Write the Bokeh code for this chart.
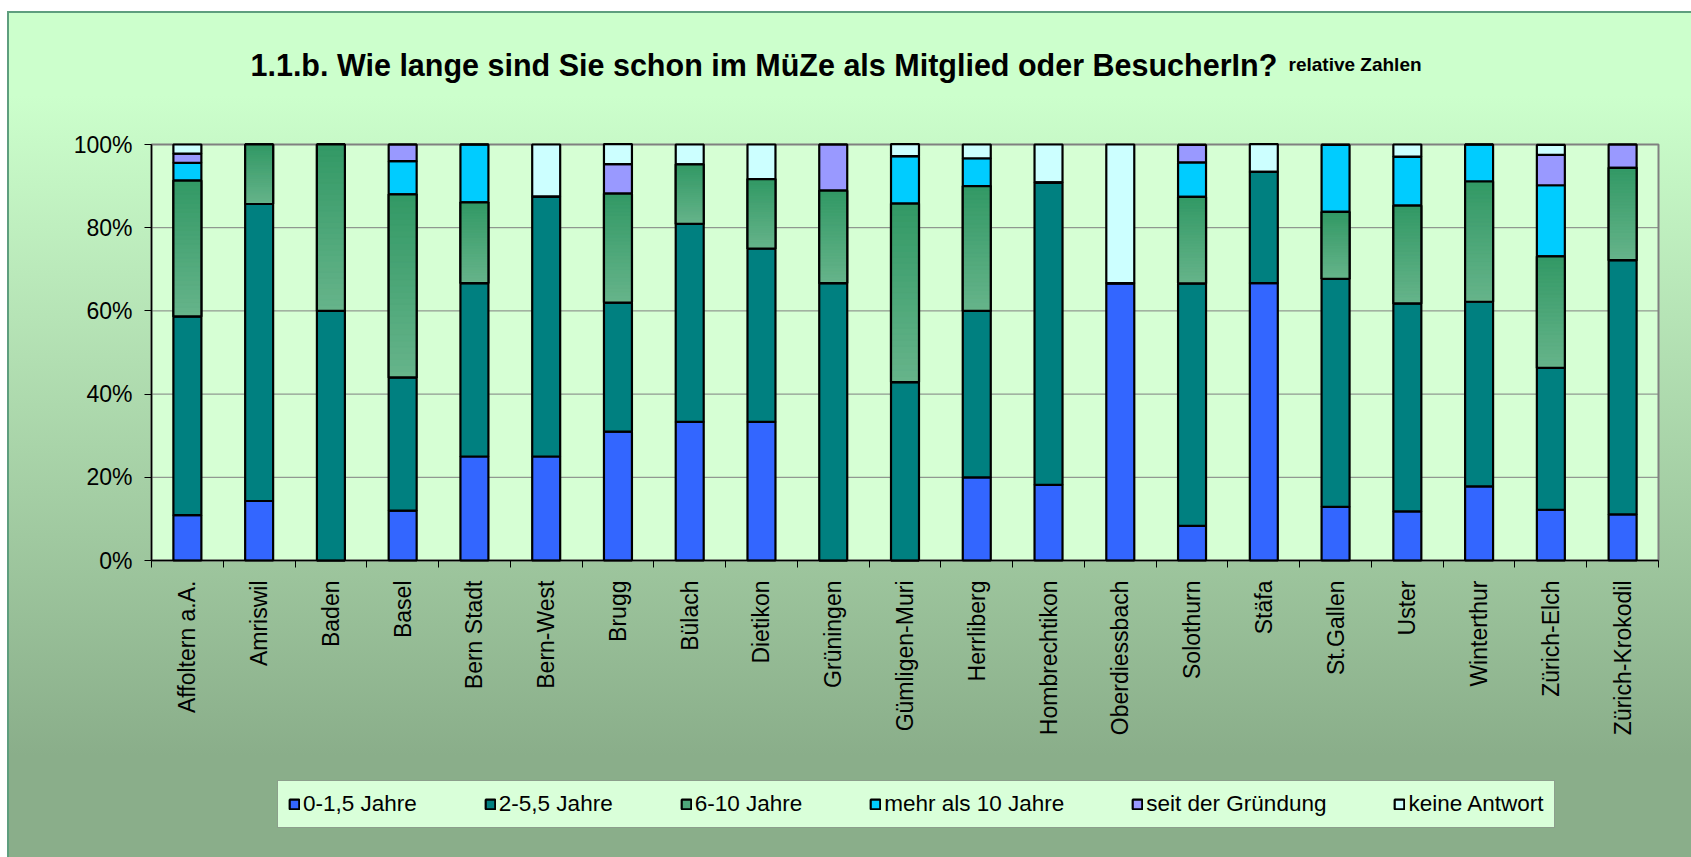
import math
from bokeh.plotting import figure
from bokeh.models import (ColumnDataSource, FixedTicker, Legend, LegendItem, Label,
                          LinearAxis, PrintfTickFormatter, Range1d)
from bokeh.embed import file_html
from bokeh.resources import INLINE

# ---------------- data (percent of respondents) ----------------
categories = ["Affoltern a.A.", "Amriswil", "Baden", "Basel", "Bern Stadt", "Bern-West",
              "Brugg", "Bülach", "Dietikon", "Grüningen", "Gümligen-Muri", "Herrliberg",
              "Hombrechtikon", "Oberdiessbach", "Solothurn", "Stäfa", "St.Gallen", "Uster",
              "Winterthur", "Zürich-Elch", "Zürich-Krokodil"]
series_names = ["0-1,5 Jahre", "2-5,5 Jahre", "6-10 Jahre", "mehr als 10 Jahre",
                "seit der Gründung", "keine Antwort"]
v_0_1_5 = [10.9, 14.3, 0, 12.0, 25.0, 25.0, 31.0, 33.3, 33.3, 0, 0, 20.0, 18.2, 66.7, 8.3,
           66.7, 12.9, 11.8, 17.8, 12.2, 11.1]
v_2_5_5 = [47.8, 71.4, 60.0, 32.0, 41.7, 62.5, 31.0, 47.6, 41.7, 66.7, 42.9, 40.0, 72.7, 0,
           58.3, 26.7, 54.8, 50.0, 44.4, 34.1, 61.1]
v_6_10 = [32.6, 14.3, 40.0, 44.0, 19.4, 0, 26.2, 14.3, 16.7, 22.2, 42.9, 30.0, 0, 0, 20.8,
          0, 16.1, 23.5, 28.9, 26.8, 22.2]
v_mehr10 = [4.3, 0, 0, 8.0, 13.9, 0, 0, 0, 0, 0, 11.4, 6.7, 0, 0, 8.3, 0, 16.1, 11.8, 8.9,
            17.1, 0]
v_seit = [2.2, 0, 0, 4.0, 0, 0, 7.1, 0, 0, 11.1, 0, 0, 0, 0, 4.2, 0, 0, 0, 0, 7.3, 5.6]
v_keine = [2.2, 0, 0, 0, 0, 12.5, 4.8, 4.8, 8.3, 0, 2.9, 3.3, 9.1, 33.3, 0, 6.7, 0, 2.9, 0,
           2.4, 0]
y_ticks = [0, 20, 40, 60, 80, 100]

colors = ["#3366FF", "#008080", "#4EA77A", "#00CCFF", "#9999FF", "#CCFFFF"]
FONT = "Liberation Sans"
BAR_W = 0.39

# ---------------- layout (pixels) ----------------
W, H = 1691, 857
PX_L, PX_R, PX_T, PX_B = 151, 1658, 144, 560   # plot area edges

n = len(categories)
xs = [i + 0.5 for i in range(n)]
sx = (PX_R - PX_L) / n
sy = (PX_B - PX_T) / 100.0
x_range = Range1d(-PX_L / sx, n + (W - PX_R) / sx)
y_range = Range1d(-(H - PX_B) / sy, 100 + PX_T / sy)

keys = ["s0", "s1", "s2", "s3", "s4", "s5"]
src = ColumnDataSource(dict(x=xs, s0=v_0_1_5, s1=v_2_5_5, s2=v_6_10, s3=v_mehr10,
                            s4=v_seit, s5=v_keine))

p = figure(width=W, height=H, x_range=x_range, y_range=y_range,
           output_backend="svg", toolbar_location=None,
           x_axis_location=None, y_axis_location=None,
           min_border=0, min_border_left=0, min_border_right=0, min_border_top=0,
           min_border_bottom=0)
p.border_fill_color = None
p.background_fill_color = None
p.outline_line_color = None
p.grid.visible = False
p.styles = {"background": (
    "linear-gradient(#5E9E7E,#5E9E7E) 7px 11px / 1684px 2px no-repeat, "
    "linear-gradient(#5E9E7E,#5E9E7E) 7px 11px / 2px 846px no-repeat, "
    "linear-gradient(to bottom, #CCFFCC 0%, #CCFFCC 10%, #8AAE8A 88%, #8AAE8A 100%) "
    "7px 11px / 1684px 846px no-repeat, #FFFFFF")}

# plot area background + grid lines
p.quad(left=[0], right=[n], bottom=[y_ticks[0]], top=[y_ticks[-1]],
       fill_color="#D6FFD4", line_color="#808080", line_width=2)
p.segment(x0=[0] * len(y_ticks), x1=[n] * len(y_ticks), y0=y_ticks, y1=y_ticks,
          line_color="#808080", line_width=1)

# stacked bars
renderers = p.vbar_stack(keys, x="x", width=BAR_W, color=colors, source=src,
                         line_color="black", line_width=2.2)

# gradient overlay for "6-10 Jahre" (dark at top -> light at bottom)
dark = (51, 153, 102)
light = (102, 180, 138)
N = 30
gx, gb, gt, gc = [], [], [], []
for i in range(n):
    b = v_0_1_5[i] + v_2_5_5[i]
    v = v_6_10[i]
    if v <= 0:
        continue
    for k in range(N):
        f = k / (N - 1)
        c = tuple(int(round(light[j] + (dark[j] - light[j]) * f)) for j in range(3))
        gx.append(xs[i])
        gb.append(b + v * k / N)
        gt.append(b + v * (k + 1) / N)
        gc.append("#%02x%02x%02x" % c)
p.vbar(x=gx, bottom=gb, top=gt, width=BAR_W, fill_color=gc, line_color=gc, line_width=1)
ob = [a + b for a, b in zip(v_0_1_5, v_2_5_5)]
ot = [a + b for a, b in zip(ob, v_6_10)]
p.vbar(x=xs, bottom=ob, top=ot, width=BAR_W, fill_color=None, line_color="black",
       line_width=2.2)

# y axis
yaxis = LinearAxis(fixed_location=0, bounds=(y_ticks[0], y_ticks[-1]))
yaxis.ticker = FixedTicker(ticks=y_ticks)
yaxis.formatter = PrintfTickFormatter(format="%d%%")
yaxis.major_label_text_font = FONT
yaxis.major_label_text_font_size = "23px"
yaxis.major_label_text_color = "black"
yaxis.major_tick_out = 7
yaxis.major_tick_in = 0
yaxis.major_tick_line_color = "black"
yaxis.minor_tick_line_color = None
yaxis.axis_line_color = "black"
yaxis.axis_line_width = 1.5
yaxis.major_label_standoff = 12
p.add_layout(yaxis, "left")

# x axis (labels at centers, ticks between categories)
xaxis = LinearAxis(fixed_location=0, bounds=(0, n))
xaxis.ticker = FixedTicker(ticks=xs, minor_ticks=list(range(n + 1)))
xaxis.major_label_overrides = {x: c for x, c in zip(xs, categories)}
xaxis.major_label_orientation = math.pi / 2
xaxis.major_label_text_font = FONT
xaxis.major_label_text_font_size = "23px"
xaxis.major_label_text_color = "black"
xaxis.major_tick_line_color = None
xaxis.major_tick_out = 7
xaxis.major_tick_in = 0
xaxis.minor_tick_out = 7
xaxis.minor_tick_in = 0
xaxis.minor_tick_line_color = "black"
xaxis.axis_line_color = "black"
xaxis.axis_line_width = 1.5
xaxis.major_label_standoff = 13
p.add_layout(xaxis, "below")

# legend
legend = Legend(items=[LegendItem(label=nm, renderers=[r]) for nm, r in zip(series_names, renderers)],
                orientation="horizontal", location=(277, H - 828))
legend.background_fill_color = "#D9FFD9"
legend.background_fill_alpha = 1
legend.border_line_color = "#404040"
legend.border_line_width = 1.5
legend.label_text_font = FONT
legend.label_text_font_size = "22.5px"
legend.label_text_color = "black"
legend.glyph_width = 12
legend.glyph_height = 12
legend.label_standoff = 3
legend.spacing = 67
legend.padding = 10
legend.margin = 0
p.add_layout(legend, "center")

# title (both parts share one baseline)
base_y = 100 + (PX_T - 64) / sy
t1 = Label(x=(250 - PX_L) / sx, y=base_y, x_units="data", y_units="data",
           text="1.1.b. Wie lange sind Sie schon im MüZe als Mitglied oder BesucherIn?",
           text_font=FONT, text_font_style="bold", text_font_size="30.5px",
           text_baseline="alphabetic", text_color="black")
t2 = Label(x=(1288 - PX_L) / sx, y=base_y, x_units="data", y_units="data",
           text="relative Zahlen",
           text_font=FONT, text_font_style="bold", text_font_size="19px",
           text_baseline="alphabetic", text_color="black")
p.add_layout(t1)
p.add_layout(t2)

open("out.html", "w").write(file_html(p, INLINE))
